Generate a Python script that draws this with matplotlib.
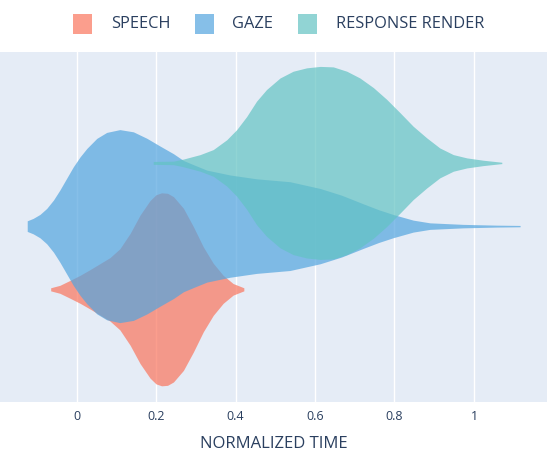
import numpy as np
import matplotlib
matplotlib.use("Agg")
import matplotlib.pyplot as plt
from matplotlib.patches import Rectangle

plt.rcParams['font.family'] = ['Open Sans', 'DejaVu Sans']

# violin outlines: x = normalized time, w = relative half width (peak = 1)
categories = ["SPEECH", "GAZE", "RESPONSE RENDER"]
colors = ["#FA755D", "#53A5DF", "#62C3C3"]

speech_x = [-0.065, -0.042, -0.016, 0.009, 0.034, 0.059, 0.084, 0.109, 0.135, 0.160,
            0.185, 0.200, 0.214, 0.229, 0.244, 0.269, 0.294, 0.319, 0.344, 0.369,
            0.394, 0.421]
speech_w = [0.016, 0.041, 0.093, 0.145, 0.204, 0.266, 0.328, 0.42, 0.58, 0.77,
            0.92, 0.98, 1.0, 0.995, 0.96, 0.84, 0.65, 0.44, 0.27, 0.145,
            0.06, 0.016]

gaze_x = [-0.124, -0.109, -0.092, -0.075, -0.058, -0.042, -0.025, -0.008, 0.009, 0.026,
          0.051, 0.076, 0.109, 0.143, 0.177, 0.210, 0.244, 0.269, 0.298, 0.328,
          0.386, 0.453, 0.537, 0.613, 0.667, 0.722, 0.760, 0.797, 0.847, 0.889,
          0.973, 1.057, 1.116]
gaze_w = [0.055, 0.080, 0.121, 0.183, 0.27, 0.373, 0.494, 0.615, 0.718, 0.805,
          0.909, 0.971, 1.0, 0.977, 0.91, 0.83, 0.75, 0.68, 0.63, 0.58,
          0.53, 0.49, 0.46, 0.39, 0.32, 0.23, 0.17, 0.12, 0.062, 0.034,
          0.018, 0.010, 0.007]

render_x = [0.193, 0.244, 0.269, 0.311, 0.344, 0.378, 0.403, 0.428, 0.453, 0.478,
            0.512, 0.545, 0.579, 0.613, 0.646, 0.680, 0.713, 0.747, 0.780, 0.814,
            0.847, 0.881, 0.914, 0.948, 0.982, 1.023, 1.070]
render_w = [0.015, 0.018, 0.04, 0.086, 0.138, 0.24, 0.345, 0.48, 0.64, 0.76,
            0.88, 0.95, 0.985, 1.0, 0.995, 0.95, 0.88, 0.78, 0.66, 0.52,
            0.38, 0.26, 0.155, 0.086, 0.052, 0.028, 0.007]

xticks = [0, 0.2, 0.4, 0.6, 0.8, 1]
xtick_labels = ["0", "0.2", "0.4", "0.6", "0.8", "1"]

W, H = 550, 455
fig = plt.figure(figsize=(W / 100, H / 100), dpi=100)
fig.patch.set_facecolor("white")
ax = fig.add_axes([0 / W, 1 - 402 / H, 547 / W, 350 / H])
ax.set_facecolor("#E5ECF6")

max_half = 1.527
violins = [(speech_x, speech_w), (gaze_x, gaze_w), (render_x, render_w)]
for i, (xs, ws) in enumerate(violins):
    xs = np.array(xs)
    ws = np.array(ws) * max_half
    ax.fill_between(xs, i - ws, i + ws, color=colors[i], alpha=0.7, linewidth=0, zorder=3)

ax.set_xlim(-0.1925, 1.1837)
ax.set_ylim(-1.783, 3.755)
ax.set_xticks(xticks)
ax.set_xticklabels(xtick_labels)
ax.set_yticks([])
for x in xticks:
    ax.axvline(x, color="white", linewidth=1.0, zorder=1)
for s in ax.spines.values():
    s.set_visible(False)
ax.tick_params(axis="x", length=0, pad=6, labelsize=9, labelcolor="#2a3f5f")
ax.set_xlabel("NORMALIZED TIME", fontsize=12, color="#2a3f5f", labelpad=9)

# legend across the top
leg_patch_x = [73, 195, 298]
leg_text_x = [111, 232, 336]
for i, name in enumerate(categories):
    fig.patches.append(Rectangle((leg_patch_x[i] / W, 1 - 33.5 / H), 19 / W, 20 / H,
                                 transform=fig.transFigure, facecolor=colors[i],
                                 alpha=0.7, edgecolor="none"))
    fig.text(leg_text_x[i] / W, 1 - 23.5 / H, name, fontsize=11.8, color="#2a3f5f",
             va="center", ha="left")

fig.savefig("out.png", dpi=100)
